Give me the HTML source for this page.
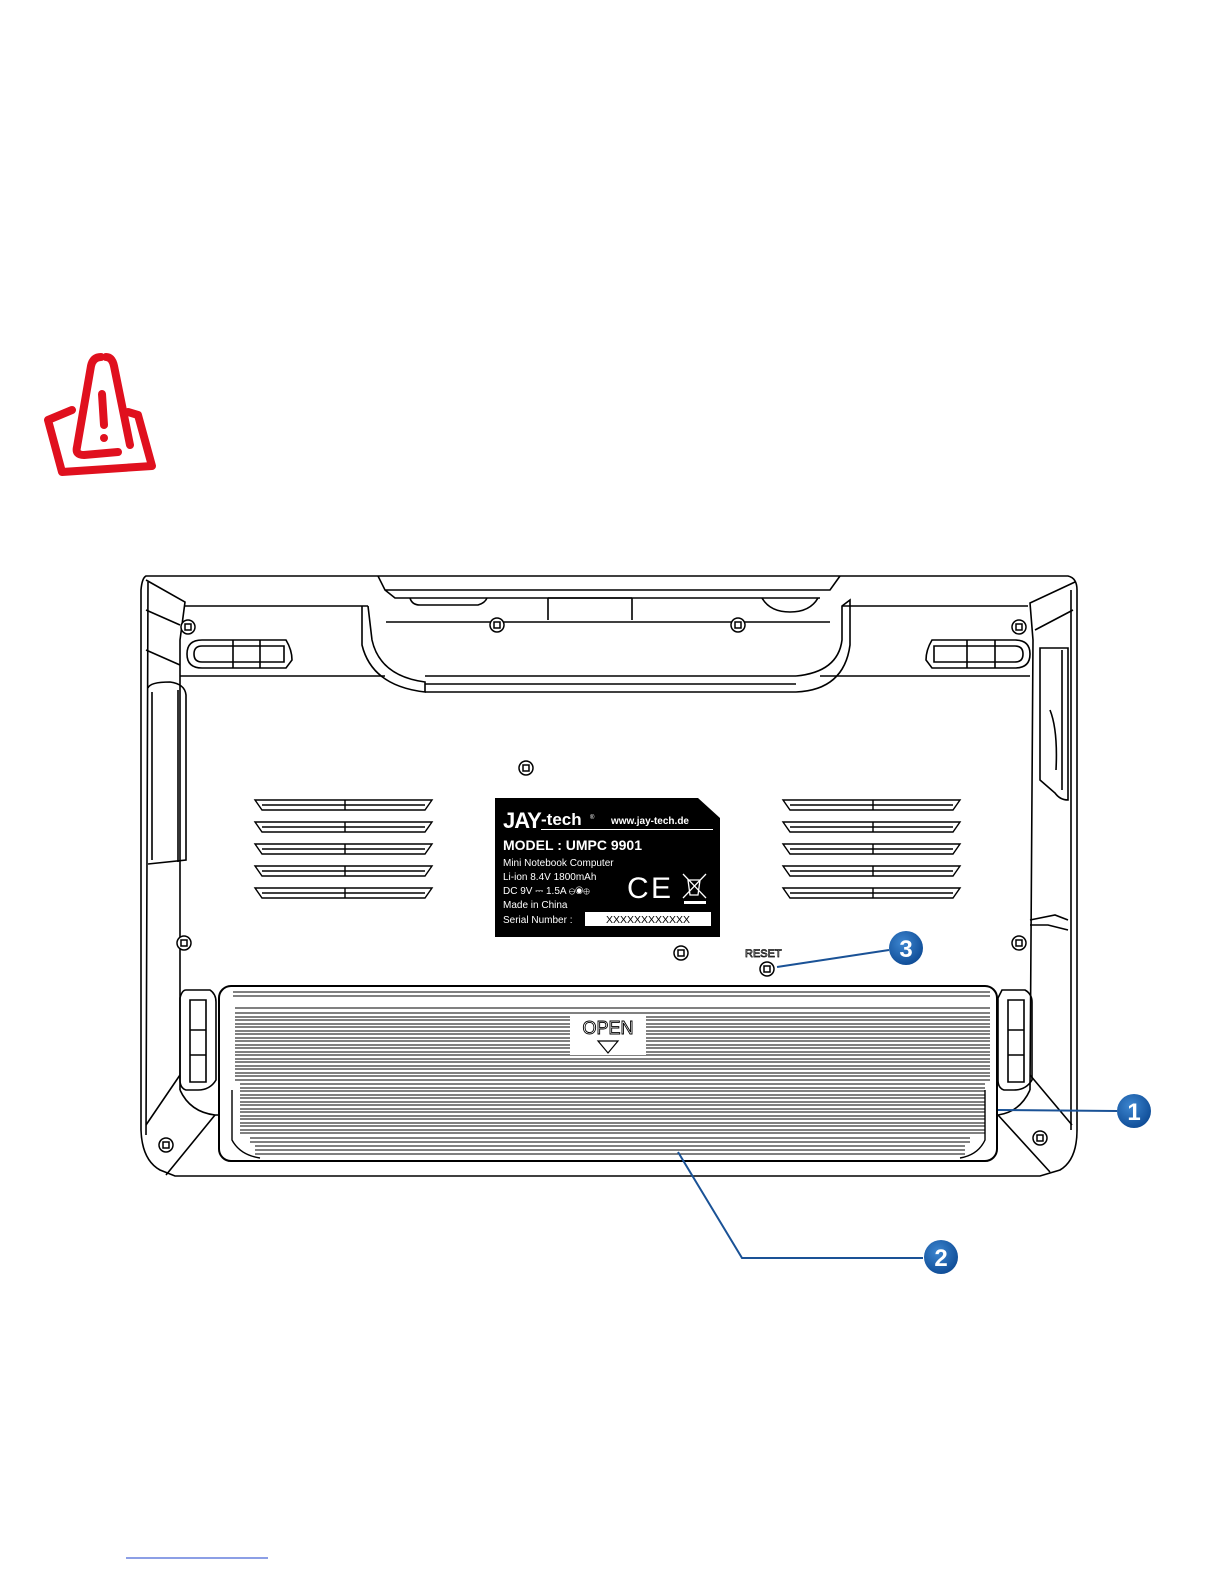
<!DOCTYPE html>
<html><head><meta charset="utf-8"><style>
html,body{margin:0;padding:0;background:#fff;}
body{width:1225px;height:1585px;position:relative;overflow:hidden;font-family:"Liberation Sans",sans-serif;}
</style></head><body>
<svg width="1225" height="1585" viewBox="0 0 1225 1585" xmlns="http://www.w3.org/2000/svg" style="position:absolute;left:0;top:0">
<defs>
<radialGradient id="bg" cx="40%" cy="35%" r="70%"><stop offset="0" stop-color="#3d86d0"/><stop offset="1" stop-color="#0d4a94"/></radialGradient>
<g id="sc"><circle r="7"/><rect x="-3" y="-3" width="6" height="6"/></g>
<g id="vl"><path d="M255 800 L432 800 L425 810 L262 810 Z M262 805 L425 805 M345 800 L345 810"/></g>
</defs>
<!-- warning cone -->
<g fill="none" stroke="#e0101e" stroke-width="8" stroke-linejoin="round" stroke-linecap="round">
<path d="M72 410 L48 420 L62 472 L152 466 L138 415 L128 412"/>
<path d="M101 357 Q93 357 91 366 L77 447 Q75 455 84 455 L118 452"/>
<path d="M106 357 Q112 357 114 366 L130 445"/>
<line x1="102" y1="394" x2="104" y2="425"/>
</g>
<circle cx="104" cy="438" r="4" fill="#e0101e"/>

<g fill="none" stroke="#000" stroke-width="1.6">
<path d="M146 576 L378 576 M840 576 L1068 576 Q1077 578 1077 590 L1077 1130 Q1077 1160 1060 1170 L1040 1176 L175 1176 L160 1170 Q142 1160 141 1130 L141 590 Q142 578 146 576 Z"/>
<path d="M148 582 L146 1135 M1071 590 L1071 1130"/>
<path d="M146 580 L185 602 L180 640 L180 1090 M1075 582 L1030 603 L1033 640 L1030 1090"/>
<path d="M146 610 L180 625 M146 650 L180 665 M1073 610 L1035 630"/>
<path d="M185 606 L368 606 M842 606 L1028 606"/>
<path d="M180 676 L385 676 M820 676 L1030 676"/>
<path d="M378 576 L385 590 L830 590 L840 576 M385 590 L395 598 L820 598"/>
<path d="M410 598 Q412 605 420 605 L478 605 Q485 603 487 598"/>
<path d="M548 598 L548 620 M632 598 L632 620 M548 598 L632 598"/>
<path d="M762 598 Q770 612 790 612 Q810 612 818 598"/>
<path d="M368 606 L372 640 Q380 676 425 682 L425 692 Q372 686 362 645 L362 606"/>
<path d="M386 622 L830 622"/>
<path d="M425 676 L796 676 M425 684 L796 684 M425 692 L796 692"/>
<path d="M796 676 Q838 672 842 640 L842 606 L850 600 L850 645 Q844 690 796 692"/>
<path d="M202 640 L286 640 Q292 650 292 660 L286 668 L202 668 Q187 668 187 654 Q187 640 202 640 Z"/>
<path d="M202 646 L284 646 L284 662 L202 662 Q194 662 194 654 Q194 646 202 646 Z M233 640 L233 668 M260 640 L260 668"/>
<path d="M1015 640 L932 640 Q926 650 926 660 L932 668 L1015 668 Q1030 668 1030 654 Q1030 640 1015 640 Z"/>
<path d="M1015 646 L934 646 L934 662 L1015 662 Q1023 662 1023 654 Q1023 646 1015 646 Z M967 640 L967 668 M995 640 L995 668"/>
<path d="M148 688 Q150 682 170 682 Q185 684 186 695 L186 860 L148 864"/>
<path d="M152 692 L152 860 M178 690 L178 862"/>
<path d="M1040 648 L1068 648 L1068 800 Q1060 800 1055 793 L1040 780 Z M1062 650 L1062 790"/>
<path d="M1050 710 Q1058 730 1056 770"/>
<path d="M1030 920 L1055 915 L1068 920 M1030 925 L1048 925 L1068 930"/>
<path d="M186 990 L210 990 Q216 994 216 1002 L216 1080 Q210 1090 198 1090 L186 1090 Q180 1088 180 1080 L180 998 Q182 990 186 990 Z"/>
<path d="M190 1000 L206 1000 L206 1082 L190 1082 Z M190 1030 L206 1030 M190 1055 L206 1055"/>
<path d="M1002 990 L1025 990 Q1032 994 1032 1002 L1032 1080 Q1026 1090 1014 1090 L1004 1090 Q998 1088 998 1080 L998 998 Z"/>
<path d="M1008 1000 L1024 1000 L1024 1082 L1008 1082 Z M1008 1030 L1024 1030 M1008 1055 L1024 1055"/>
<path d="M180 1075 L146 1125 M215 1115 L166 1175 M1030 1075 L1072 1125 M998 1115 L1050 1172"/>
<path d="M180 1090 Q190 1112 215 1115 L225 1115 M1030 1090 Q1020 1112 998 1115"/>
</g>

<rect x="219" y="986" width="778" height="175" rx="12" fill="#fff" stroke="#000" stroke-width="2"/>
<g stroke="#000" stroke-width="1.1">
<line x1="233" y1="992" x2="990" y2="992"/><line x1="233" y1="996" x2="990" y2="996"/>
<line x1="235" y1="1008" x2="990" y2="1008"/><line x1="235" y1="1013" x2="990" y2="1013"/>
<line x1="235" y1="1017" x2="990" y2="1017"/><line x1="235" y1="1020" x2="990" y2="1020"/>
<line x1="235" y1="1024" x2="990" y2="1024"/><line x1="235" y1="1027" x2="990" y2="1027"/>
<line x1="235" y1="1031" x2="990" y2="1031"/><line x1="235" y1="1034" x2="990" y2="1034"/>
<line x1="235" y1="1038" x2="990" y2="1038"/><line x1="235" y1="1041" x2="990" y2="1041"/>
<line x1="235" y1="1045" x2="990" y2="1045"/><line x1="235" y1="1048" x2="990" y2="1048"/>
<line x1="235" y1="1052" x2="990" y2="1052"/><line x1="235" y1="1055" x2="990" y2="1055"/>
<line x1="235" y1="1059" x2="990" y2="1059"/><line x1="235" y1="1062" x2="990" y2="1062"/>
<line x1="235" y1="1066" x2="990" y2="1066"/><line x1="235" y1="1069" x2="990" y2="1069"/>
<line x1="235" y1="1073" x2="990" y2="1073"/><line x1="235" y1="1076" x2="990" y2="1076"/>
<line x1="235" y1="1080" x2="990" y2="1080"/><line x1="240" y1="1084" x2="985" y2="1084"/>
<line x1="240" y1="1088" x2="985" y2="1088"/><line x1="240" y1="1091" x2="985" y2="1091"/>
<line x1="240" y1="1095" x2="985" y2="1095"/><line x1="240" y1="1098" x2="985" y2="1098"/>
<line x1="240" y1="1102" x2="985" y2="1102"/><line x1="240" y1="1105" x2="985" y2="1105"/>
<line x1="240" y1="1109" x2="985" y2="1109"/><line x1="240" y1="1112" x2="985" y2="1112"/>
<line x1="240" y1="1116" x2="985" y2="1116"/><line x1="240" y1="1119" x2="985" y2="1119"/>
<line x1="240" y1="1123" x2="985" y2="1123"/><line x1="240" y1="1126" x2="985" y2="1126"/>
<line x1="240" y1="1130" x2="985" y2="1130"/><line x1="240" y1="1133" x2="985" y2="1133"/>
<line x1="250" y1="1138" x2="970" y2="1138"/><line x1="250" y1="1142" x2="970" y2="1142"/>
<line x1="255" y1="1146" x2="965" y2="1146"/><line x1="255" y1="1150" x2="965" y2="1150"/>
<line x1="255" y1="1154" x2="965" y2="1154"/>
</g>
<path d="M232 1090 L232 1140 Q240 1155 260 1158 M985 1090 L985 1140 Q978 1155 960 1158" fill="none" stroke="#000" stroke-width="1.4"/>
<rect x="570" y="1015" width="76" height="40" fill="#fff"/>
<text x="608" y="1034" font-size="18" text-anchor="middle" fill="#fff" stroke="#000" stroke-width="0.9" font-family="Liberation Sans">OPEN</text>
<path d="M598 1041 L618 1041 L608 1053 Z" fill="none" stroke="#000" stroke-width="1.2"/>

<g fill="none" stroke="#000" stroke-width="1.4">
<use href="#vl"/><use href="#vl" y="22"/><use href="#vl" y="44"/><use href="#vl" y="66"/><use href="#vl" y="88"/>
<use href="#vl" x="528"/><use href="#vl" x="528" y="22"/><use href="#vl" x="528" y="44"/><use href="#vl" x="528" y="66"/><use href="#vl" x="528" y="88"/>
</g>

<g fill="#fff" stroke="#000" stroke-width="1.5">
<use href="#sc" x="188" y="627"/><use href="#sc" x="497" y="625"/><use href="#sc" x="738" y="625"/>
<use href="#sc" x="1019" y="627"/><use href="#sc" x="526" y="768"/><use href="#sc" x="184" y="943"/>
<use href="#sc" x="681" y="953"/><use href="#sc" x="1019" y="943"/><use href="#sc" x="767" y="969"/>
<use href="#sc" x="166" y="1145"/><use href="#sc" x="1040" y="1138"/>
</g>
<text x="745" y="957" font-size="11" fill="#fff" stroke="#000" stroke-width="0.7" font-family="Liberation Sans">RESET</text>

<path d="M495 798 L698 798 L720 818 L720 937 L495 937 Z" fill="#000"/>
<g fill="#fff" font-family="Liberation Sans">
<text x="503" y="828" font-size="22" font-weight="bold" letter-spacing="-1">JAY</text>
<text x="541" y="825" font-size="17" font-weight="bold">-tech</text>
<text x="590" y="819" font-size="6">®</text>
<text x="611" y="824" font-size="10" font-weight="bold">www.jay-tech.de</text>
<rect x="541" y="829" width="172" height="1"/>
<text x="503" y="850" font-size="14" font-weight="bold">MODEL : UMPC 9901</text>
<text x="503" y="866" font-size="10">Mini Notebook Computer</text>
<text x="503" y="880" font-size="10">Li-ion 8.4V 1800mAh</text>
<text x="503" y="894" font-size="10">DC 9V ⎓ 1.5A  ⊖◉⊕</text>
<text x="503" y="908" font-size="10">Made in China</text>
<text x="503" y="923" font-size="10">Serial Number :</text>
<rect x="585" y="912" width="126" height="14"/>
<text x="648" y="923" font-size="10.5" fill="#000" text-anchor="middle">XXXXXXXXXXXX</text>
<text x="627" y="898" font-size="30">C</text>
<text x="651" y="898" font-size="30">E</text>
</g>
<g stroke="#fff" stroke-width="1.3" fill="none">
<path d="M683 874 L706 898 M706 874 L683 898 M688 880 L700 880 L698 895 L690 895 Z"/>
</g>
<rect x="684" y="901" width="22" height="3" fill="#fff"/>

<g fill="none" stroke="#1a5296" stroke-width="2">
<path d="M777 967 L889 950"/>
<path d="M998 1110 L1117 1111"/>
<path d="M678 1152 L742 1258 L923 1258"/>
</g>
<g font-family="Liberation Sans" font-weight="bold" font-size="24" fill="#fff" text-anchor="middle">
<circle cx="906" cy="948" r="17" fill="url(#bg)"/><text x="906" y="957">3</text>
<circle cx="1134" cy="1111" r="17" fill="url(#bg)"/><text x="1134" y="1120">1</text>
<circle cx="941" cy="1257" r="17" fill="url(#bg)"/><text x="941" y="1266">2</text>
</g>
<line x1="126" y1="1558" x2="268" y2="1558" stroke="#1a3fcc" stroke-width="1"/>
</svg>
</body></html>
